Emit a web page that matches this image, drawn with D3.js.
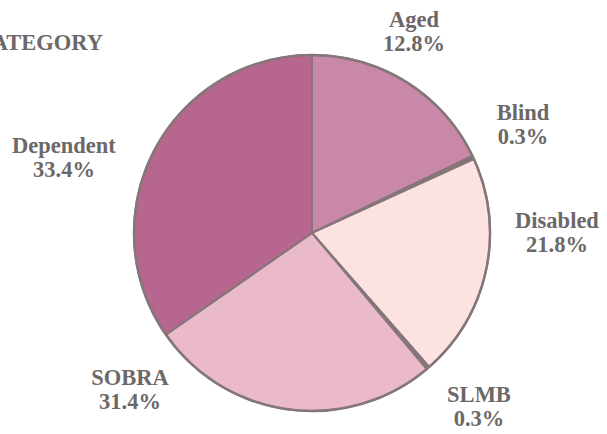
<!DOCTYPE html>
<html>
<head>
<meta charset="utf-8">
<script src="https://cdn.jsdelivr.net/npm/d3@7/dist/d3.min.js"></script>
<style>
  html, body { margin: 0; padding: 0; background: #ffffff; }
  svg { display: block; }
</style>
</head>
<body>
<svg id="chart" width="607" height="434"></svg>
<script>
// ---- data ----
const categories = ["Aged", "Blind", "Disabled", "SLMB", "SOBRA", "Dependent"];
// percentages printed on the chart
const percentLabels = [12.8, 0.3, 21.8, 0.3, 31.4, 33.4];
// slice shares as drawn in the original (the printed artwork is not exactly proportional)
const drawnShare = [17.9, 0.3, 20.4, 0.3, 26.5, 34.7];
const titleText = "CATEGORY";

// ---- style / layout ----
const colors = ["#ca88a8", "#85727a", "#fce3e2", "#85727a", "#eab9ca", "#b6668f"];
const cx = 312, cy = 233, R = 178;
const labelAt = {
  Aged: [414, 27], Blind: [523, 120], Disabled: [557, 228],
  SLMB: [479, 402], SOBRA: [130, 385], Dependent: [64, 153]
};
const lineGap = 23.5;
const fontSize = 22.5;

const svg = d3.select("#chart");

const data = categories.map((c, i) => ({ name: c, share: drawnShare[i], pct: percentLabels[i], color: colors[i] }));
const pie = d3.pie().sort(null).value(d => d.share).startAngle(0).endAngle(2 * Math.PI);
const arc = d3.arc().innerRadius(0).outerRadius(R);

const g = svg.append("g").attr("transform", `translate(${cx},${cy})`);
g.selectAll("path.slice")
  .data(pie(data))
  .join("path")
  .attr("class", "slice")
  .attr("d", arc)
  .attr("fill", d => d.data.color)
  .attr("stroke", "#857779")
  .attr("stroke-width", 2)
  .attr("stroke-linejoin", "round");

g.append("circle")
  .attr("r", R)
  .attr("fill", "none")
  .attr("stroke", "#857779")
  .attr("stroke-width", 2.5);

// labels
const font = "'Liberation Serif', 'Times New Roman', serif";
data.forEach(d => {
  const [x, y] = labelAt[d.name];
  const t = svg.append("text")
    .attr("x", x).attr("y", y)
    .attr("text-anchor", "middle")
    .attr("font-family", font)
    .attr("font-weight", "bold")
    .attr("font-size", fontSize)
    .attr("fill", "#6c6868");
  t.append("tspan").attr("x", x).text(d.name);
  t.append("tspan").attr("x", x).attr("dy", lineGap).text(d3.format(".1f")(d.pct) + "%");
});

// title fragment (cut off at the left edge, as in the cropped original)
svg.append("text")
  .attr("x", 103).attr("y", 50)
  .attr("text-anchor", "end")
  .attr("font-family", font)
  .attr("font-weight", "bold")
  .attr("font-size", fontSize)
  .attr("fill", "#6c6868")
  .text(titleText);
</script>
</body>
</html>
